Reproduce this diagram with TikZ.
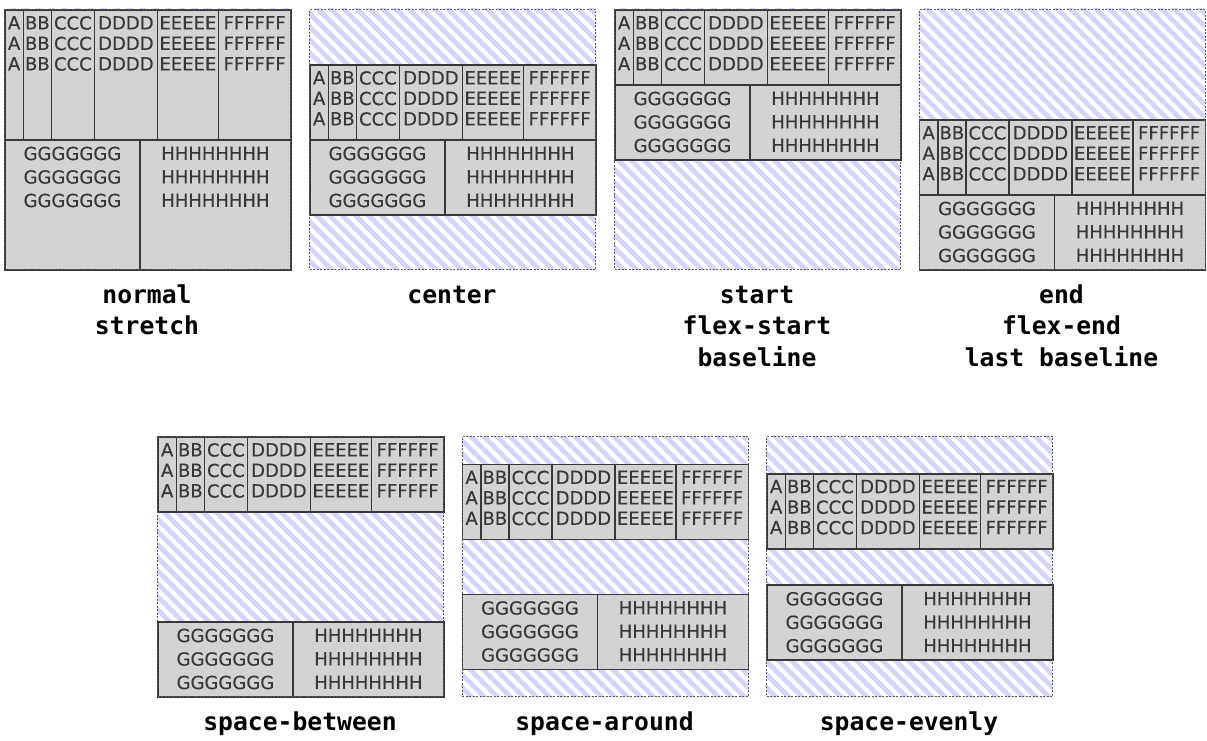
\documentclass[tikz,border=0pt]{standalone}
\usepackage{fontspec}
\setmainfont{DejaVu Sans}
\setmonofont{DejaVu Sans Mono}
\newfontfamily\itemfont{DejaVu Sans}[FakeBold=0.4]
\usepackage{xcolor}
\usepackage{tikz}
\usetikzlibrary{positioning}
\definecolor{itemgray}{RGB}{211,211,211}
\definecolor{stripe}{RGB}{212,212,255}

\begin{document}
\begin{tikzpicture}[x=1pt, y=-1pt,
  item/.style={draw=black!78, line width=1.8pt, fill=itemgray, inner sep=0pt, anchor=north west},
  txt/.style={font=\itemfont\fontsize{18}{20.5}\selectfont, text=black!78, inner sep=0pt, align=center},
  txtwide/.style={txt, font=\itemfont\fontsize{18}{23.5}\selectfont},
  cont/.style={draw=black!65, line width=1.2pt, dash pattern=on 2pt off 1.5pt, inner sep=0pt,
    anchor=north west, minimum width=286pt, minimum height=260pt},
  lbl/.style={font=\fontsize{24.7}{31.5}\selectfont\ttfamily\bfseries, align=center, inner sep=0pt, anchor=north},
  hatch/.style={stripe, line width=4.8pt}]
\useasboundingbox (0,0) rectangle (1207,741);
% one container per value: left, top, first line top/height, second line top/height, label
\foreach \n/\bx/\by/\ta/\ha/\tb/\hb/\lab in {
  1/4/9/0/130/130/130/normal\\stretch,
  2/309/9/55/75/130/75/center,
  3/614/9/0/75/75/75/start\\flex-start\\baseline,
  4/918.5/9/110/75/185/75/end\\flex-end\\last baseline,
  5/157/436/0/75/185/75/space-between,
  6/461.5/436/27.5/75/157.5/75/space-around,
  7/766/436/36.7/75/148.3/75/space-evenly}{
  % stripes behind the lines
  \begin{scope}
    \clip (\bx,\by) rectangle ++(286,260);
    \foreach \k in {-266,-253,...,290}{ \draw[hatch] (\bx+\k,\by-2) -- ++(266,266); }
  \end{scope}
  % first flex line
  \foreach \i/\x/\w/\s in {1/0/18.5/A, 2/18.5/28/BB, 3/46.5/43/CCC, 4/89.5/63/DDDD, 5/152.5/61/EEEEE, 6/213.5/72.5/FFFFFF}{
    \node[item, minimum width=\w, minimum height=\ha] (b\n-\i) at (\bx+\x,\by+\ta) {};
    \node[txt, below=7pt of b\n-\i.north] (t\n-\i) {\s\\\s\\\s};
  }
  % second flex line
  \foreach \i/\x/\w/\s in {7/0/135/GGGGGGG, 8/135/151/HHHHHHHH}{
    \node[item, minimum width=\w, minimum height=\hb] (b\n-\i) at (\bx+\x,\by+\tb) {};
    \node[txtwide, below=7.5pt of b\n-\i.north] (t\n-\i) {\s\\\s\\\s};
  }
  \node[cont] (c\n) at (\bx,\by) {};
  \node[lbl] (l\n) at (\bx+143,\by+274) {\rule{0pt}{20pt}\lab};
}
\end{tikzpicture}
\end{document}
